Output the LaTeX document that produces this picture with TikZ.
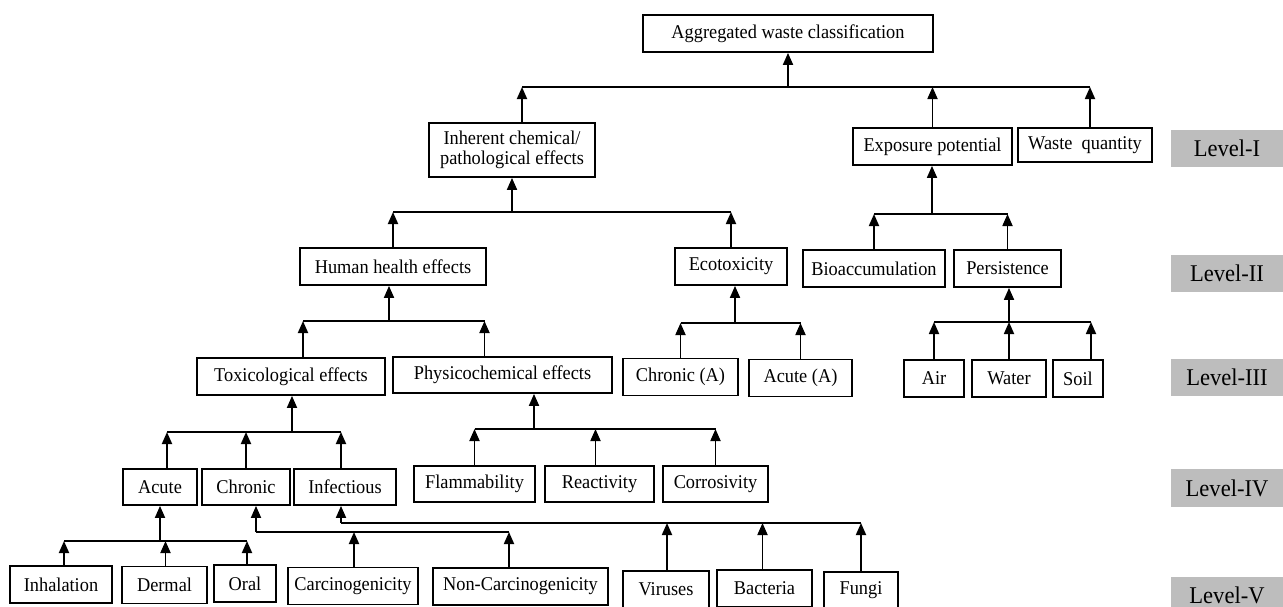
\documentclass[tikz,border=0pt]{standalone}
\usepackage{fontspec}
\setmainfont{Liberation Serif}[FakeStretch=0.94]
\usetikzlibrary{arrows.meta}
\tikzset{
  box/.style={draw, line width=1.8pt, inner sep=0pt, minimum height=37pt, font=\fontsize{19.5}{20}\selectfont},
  lvl/.style={fill=black!26, inner sep=0pt, minimum width=112pt, minimum height=37pt, font=\fontsize{24}{26}\selectfont},
  arr/.style={line width=1.8pt, -{Triangle[width=10pt,length=12pt]}},
  bus/.style={line width=1.8pt}
}
\begin{document}
\begin{tikzpicture}[x=1pt,y=-1pt]
  \useasboundingbox (0,0) rectangle (1283,606);
  \node [box,minimum width=290pt] (agg) at (788,33.5) {Aggregated waste classification};
  \node [box,minimum width=166pt,minimum height=54pt,align=center] (inh) at (512,150) {Inherent chemical/\\pathological effects};
  \node [box,minimum width=159pt] (exp) at (932.5,146.5) {Exposure potential};
  \node [box,minimum width=134pt,minimum height=34pt] (wq) at (1085,145) {Waste~ quantity};
  \node [box,minimum width=186pt] (hhe) at (393,266.5) {Human health effects};
  \node [box,minimum width=112pt] (eco) at (731,266.5) {Ecotoxicity};
  \node [box,minimum width=142pt] (bio) at (874,268.5) {Bioaccumulation};
  \node [box,minimum width=107pt] (per) at (1007.5,268.5) {Persistence};
  \node [box,minimum width=188pt] (tox) at (291,376.5) {Toxicological effects};
  \node [box,minimum width=219pt,minimum height=36pt] (phy) at (502.5,375) {Physicochemical effects};
  \node [box,minimum width=115pt] (chA) at (680.5,377) {Chronic (A)};
  \node [box,minimum width=103pt] (acA) at (800.5,378) {Acute (A)};
  \node [box,minimum width=60pt] (air) at (934,378.5) {Air};
  \node [box,minimum width=74pt] (wat) at (1009,378.5) {Water};
  \node [box,minimum width=50pt] (soil) at (1078,378.5) {Soil};
  \node [box,minimum width=74pt,minimum height=36pt] (acu) at (160,487) {Acute};
  \node [box,minimum width=88pt,minimum height=36pt] (chr) at (246,487) {Chronic};
  \node [box,minimum width=102pt,minimum height=36pt] (inf) at (345,487) {Infectious};
  \node [box,minimum width=121pt,minimum height=36pt] (fla) at (474.5,484) {Flammability};
  \node [box,minimum width=109pt,minimum height=36pt] (rea) at (599.5,484) {Reactivity};
  \node [box,minimum width=105pt,minimum height=36pt] (cor) at (715.5,484) {Corrosivity};
  \node [box,minimum width=102pt] (inl) at (61,584.5) {Inhalation};
  \node [box,minimum width=85pt] (der) at (164.5,585) {Dermal};
  \node [box,minimum width=62pt] (ora) at (245,583.5) {Oral};
  \node [box,minimum width=130pt] (car) at (353,586) {Carcinogenicity};
  \node [box,minimum width=175pt] (nca) at (520.5,586.5) {Non-Carcinogenicity};
  \node [box,minimum width=86pt] (vir) at (666,589.5) {Viruses};
  \node [box,minimum width=95pt] (bac) at (764.5,588.5) {Bacteria};
  \node [box,minimum width=74pt] (fun) at (861,590.5) {Fungi};
  \node [lvl] (lv1) at (1227,148) {Level-I};
  \node [lvl] (lv2) at (1227,273) {Level-II};
  \node [lvl] (lv3) at (1227,377) {Level-III};
  \node [lvl,minimum height=38pt] (lv4) at (1227,488) {Level-IV};
  \node [lvl] (lv5) at (1227,595.5) {Level-V};
  \coordinate (bA) at (788,87);
  \coordinate (bB) at (512,212);
  \coordinate (bC) at (932,214);
  \coordinate (bD) at (389,321);
  \coordinate (bE) at (735,323);
  \coordinate (bF) at (1009,322);
  \coordinate (bG) at (292,432);
  \coordinate (bH) at (534,429);
  \coordinate (bI) at (160,541);
  \coordinate (bJ) at (256,532);
  \coordinate (bK) at (341,523);
  \foreach \n/\s in {inh/10,exp/0,wq/5}
    \draw [arr] ([xshift=\s pt]\n.north) -- ([xshift=\s pt]\n.north |- bA);
  \draw [bus] ([xshift=10pt]inh.north |- bA) -- ([xshift=5pt]wq.north |- bA);
  \draw [arr] (bA) -- (bA |- agg.south);
  \foreach \n in {hhe,eco}
    \draw [arr] (\n.north) -- (\n.north |- bB);
  \draw [bus] (hhe.north |- bB) -- (eco.north |- bB);
  \draw [arr] (bB) -- (bB |- inh.south);
  \foreach \n in {bio,per}
    \draw [arr] (\n.north) -- (\n.north |- bC);
  \draw [bus] (bio.north |- bC) -- (per.north |- bC);
  \draw [arr] (bC) -- (bC |- exp.south);
  \foreach \n/\s in {tox/12,phy/-18}
    \draw [arr] ([xshift=\s pt]\n.north) -- ([xshift=\s pt]\n.north |- bD);
  \draw [bus] ([xshift=12pt]tox.north |- bD) -- ([xshift=-18pt]phy.north |- bD);
  \draw [arr] (bD) -- (bD |- hhe.south);
  \foreach \n in {chA,acA}
    \draw [arr] (\n.north) -- (\n.north |- bE);
  \draw [bus] (chA.north |- bE) -- (acA.north |- bE);
  \draw [arr] (bE) -- (bE |- eco.south);
  \foreach \n/\s in {air/0,wat/0,soil/13}
    \draw [arr] ([xshift=\s pt]\n.north) -- ([xshift=\s pt]\n.north |- bF);
  \draw [bus] (air.north |- bF) -- ([xshift=13pt]soil.north |- bF);
  \draw [arr] (bF) -- (bF |- per.south);
  \foreach \n/\s in {acu/7,chr/0,inf/-4}
    \draw [arr] ([xshift=\s pt]\n.north) -- ([xshift=\s pt]\n.north |- bG);
  \draw [bus] ([xshift=7pt]acu.north |- bG) -- ([xshift=-4pt]inf.north |- bG);
  \draw [arr] (bG) -- (bG |- tox.south);
  \foreach \n/\s in {fla/0,rea/-4,cor/0}
    \draw [arr] ([xshift=\s pt]\n.north) -- ([xshift=\s pt]\n.north |- bH);
  \draw [bus] (fla.north |- bH) -- (cor.north |- bH);
  \draw [arr] (bH) -- (bH |- phy.south);
  \foreach \n/\s in {inl/3,der/1,ora/2}
    \draw [arr] ([xshift=\s pt]\n.north) -- ([xshift=\s pt]\n.north |- bI);
  \draw [bus] ([xshift=3pt]inl.north |- bI) -- ([xshift=2pt]ora.north |- bI);
  \draw [arr] (bI) -- (bI |- acu.south);
  \foreach \n/\s in {car/1,nca/-11.5}
    \draw [arr] ([xshift=\s pt]\n.north) -- ([xshift=\s pt]\n.north |- bJ);
  \draw [bus] (bJ) -- ([xshift=-11.5pt]nca.north |- bJ);
  \draw [arr] (bJ) -- (bJ |- chr.south);
  \foreach \n/\s in {vir/1,bac/-2,fun/0}
    \draw [arr] ([xshift=\s pt]\n.north) -- ([xshift=\s pt]\n.north |- bK);
  \draw [bus] (bK) -- (fun.north |- bK);
  \draw [arr] (bK) -- (bK |- inf.south);
\end{tikzpicture}
\end{document}
